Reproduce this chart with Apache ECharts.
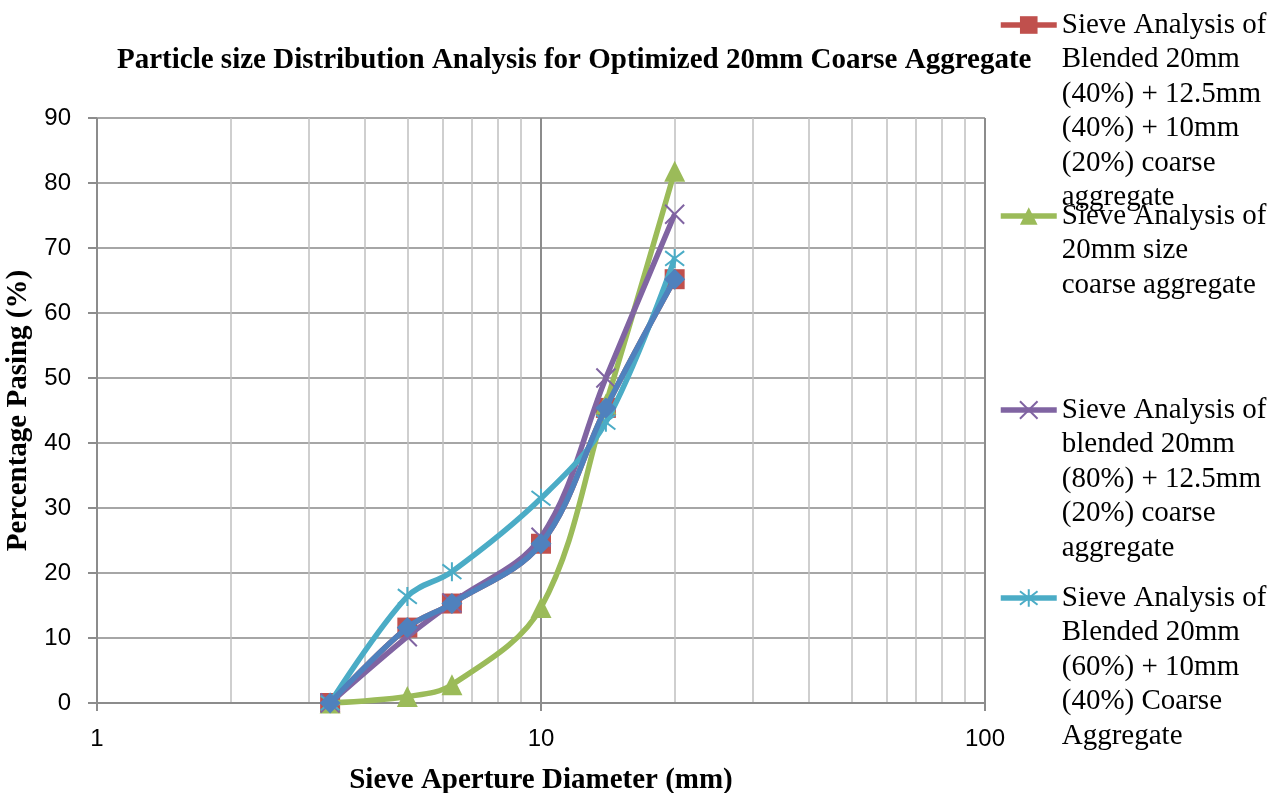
<!DOCTYPE html>
<html>
<head>
<meta charset="utf-8">
<script src="https://cdn.jsdelivr.net/npm/echarts@6/dist/echarts.min.js"></script>
<style>
  html, body { margin: 0; padding: 0; background: #fff; }
  #chart { width: 1268px; height: 793px; }
</style>
</head>
<body>
<div id="chart"></div>
<script>
// Sieve sizes (mm) and percentage passing for each grading
const sieveSizes = [3.35, 5, 6.3, 10, 14, 20];
const blend40_40_20 = [0, 11.6, 15.3, 24.5, 45.4, 65.2];
const size20mm = [0, 1, 2.8, 14.7, 46, 81.8];
const blend80_20 = [0, 10.2, 15.4, 25.5, 50, 75.2];
const blend60_40 = [0, 16.4, 20.2, 31.5, 43.2, 68.4];
const blend40_40_20Trend = [0, 11.6, 15.3, 24.5, 45.4, 65.2];

// Minor log-scale grid positions
const minorGrid = [2, 3, 4, 5, 6, 7, 8, 9, 20, 30, 40, 50, 60, 70, 80, 90];

const names = [
  'Sieve Analysis of\nBlended 20mm\n(40%) + 12.5mm\n(40%) + 10mm\n(20%) coarse\naggregate',
  'Sieve Analysis of\n20mm size\ncoarse aggregate',
  'Sieve Analysis of\nblended 20mm\n(80%) + 12.5mm\n(20%) coarse\naggregate',
  'Sieve Analysis of\nBlended 20mm\n(60%) + 10mm\n(40%) Coarse\nAggregate'
];

const pairs = vals => sieveSizes.map((s, i) => [s, vals[i]]);

const serif = '"Liberation Serif", "Times New Roman", serif';
const sans = '"Liberation Sans", Arial, sans-serif';
const LH = 34.5;
const iconY = [25, 216, 410, 598];

// Each legend entry keeps its marker beside the first text line:
// blank lines above balance the wrapped lines below.
function legendFor(i) {
  const n = names[i].split('\n').length;
  return {
    data: [names[i]],
    left: 998,
    top: iconY[i] - (2 * n - 1) * LH / 2,
    orient: 'vertical',
    padding: 0,
    itemWidth: 56,
    itemHeight: 22,
    itemGap: 0,
    lineStyle: { width: 5.5 },
    formatter: name => '\n'.repeat(n - 1) + name,
    textStyle: {
      fontFamily: serif,
      fontSize: 29,
      color: '#000',
      lineHeight: LH
    }
  };
}

const chart = echarts.init(document.getElementById('chart'));
chart.setOption({
  animation: false,
  title: {
    text: 'Particle size Distribution Analysis for Optimized 20mm Coarse Aggregate',
    left: 112,
    top: 41,
    textStyle: { fontFamily: serif, fontWeight: 'bold', fontSize: 29, color: '#000' }
  },
  legend: [legendFor(0), legendFor(1), legendFor(2), legendFor(3)],
  grid: { left: 97, right: 283, top: 118, bottom: 90, outerBoundsMode: 'none', containLabel: false },
  xAxis: {
    type: 'log',
    logBase: 10,
    min: 1,
    max: 100,
    name: 'Sieve Aperture Diameter (mm)',
    nameLocation: 'middle',
    nameGap: 63,
    nameTextStyle: { fontFamily: serif, fontWeight: 'bold', fontSize: 29, color: '#000' },
    axisLine: { show: true, lineStyle: { color: '#8c8c8c', width: 2 } },
    axisTick: { show: true, inside: false, length: 8, lineStyle: { color: '#8c8c8c', width: 2 } },
    axisLabel: { fontFamily: sans, fontSize: 24, color: '#000', margin: 24 },
    splitLine: { show: true, lineStyle: { color: '#8c8c8c', width: 2 } },
    minorTick: { show: false },
    minorSplitLine: { show: false }
  },
  yAxis: {
    type: 'value',
    min: 0,
    max: 90,
    interval: 10,
    name: 'Percentage Pasing (%)',
    nameLocation: 'middle',
    nameRotate: 90,
    nameGap: 59,
    nameTextStyle: { fontFamily: serif, fontWeight: 'bold', fontSize: 29, color: '#000' },
    axisLine: { show: false },
    axisTick: { show: true, length: 9, lineStyle: { color: '#8c8c8c', width: 2 } },
    axisLabel: { fontFamily: sans, fontSize: 24, color: '#000', margin: 26 },
    splitLine: { show: true, lineStyle: { color: '#a6a6a6', width: 2 } }
  },
  series: [
    {
      name: names[0],
      type: 'line',
      data: pairs(blend40_40_20),
      smooth: 0.35,
      symbol: 'rect',
      symbolSize: 20,
      lineStyle: { color: '#C0504D', width: 5.5 },
      itemStyle: { color: '#C0504D' },
      markLine: {
        silent: true,
        symbol: 'none',
        label: { show: false },
        lineStyle: { color: '#bfbfbf', width: 1.5, type: 'solid' },
        data: minorGrid.map(v => ({ xAxis: v })),
        z: 0
      },
      z: 2
    },
    {
      name: names[1],
      type: 'line',
      data: pairs(size20mm),
      smooth: 0.35,
      symbol: 'triangle',
      symbolSize: 21,
      lineStyle: { color: '#9BBB59', width: 5.5 },
      itemStyle: { color: '#9BBB59' },
      z: 3
    },
    {
      name: names[2],
      type: 'line',
      data: pairs(blend80_20),
      smooth: 0.35,
      symbol: 'path://M0 0L10 10M10 0L0 10',
      symbolSize: 19,
      lineStyle: { color: '#8064A2', width: 5.5 },
      itemStyle: { color: '#8064A2', borderColor: '#8064A2', borderWidth: 2 },
      z: 4
    },
    {
      name: names[3],
      type: 'line',
      data: pairs(blend60_40),
      smooth: 0.35,
      symbol: 'path://M0 0L10 10M10 0L0 10M5 -1.5L5 11.5',
      symbolSize: 19,
      lineStyle: { color: '#4BACC6', width: 5.5 },
      itemStyle: { color: '#4BACC6', borderColor: '#4BACC6', borderWidth: 2 },
      z: 5
    },
    {
      name: 'trend',
      type: 'line',
      data: pairs(blend40_40_20Trend),
      smooth: 0.35,
      symbol: 'diamond',
      symbolSize: 21,
      lineStyle: { color: '#4F81BD', width: 5.5 },
      itemStyle: { color: '#4F81BD' },
      z: 6
    }
  ]
});
</script>
</body>
</html>
